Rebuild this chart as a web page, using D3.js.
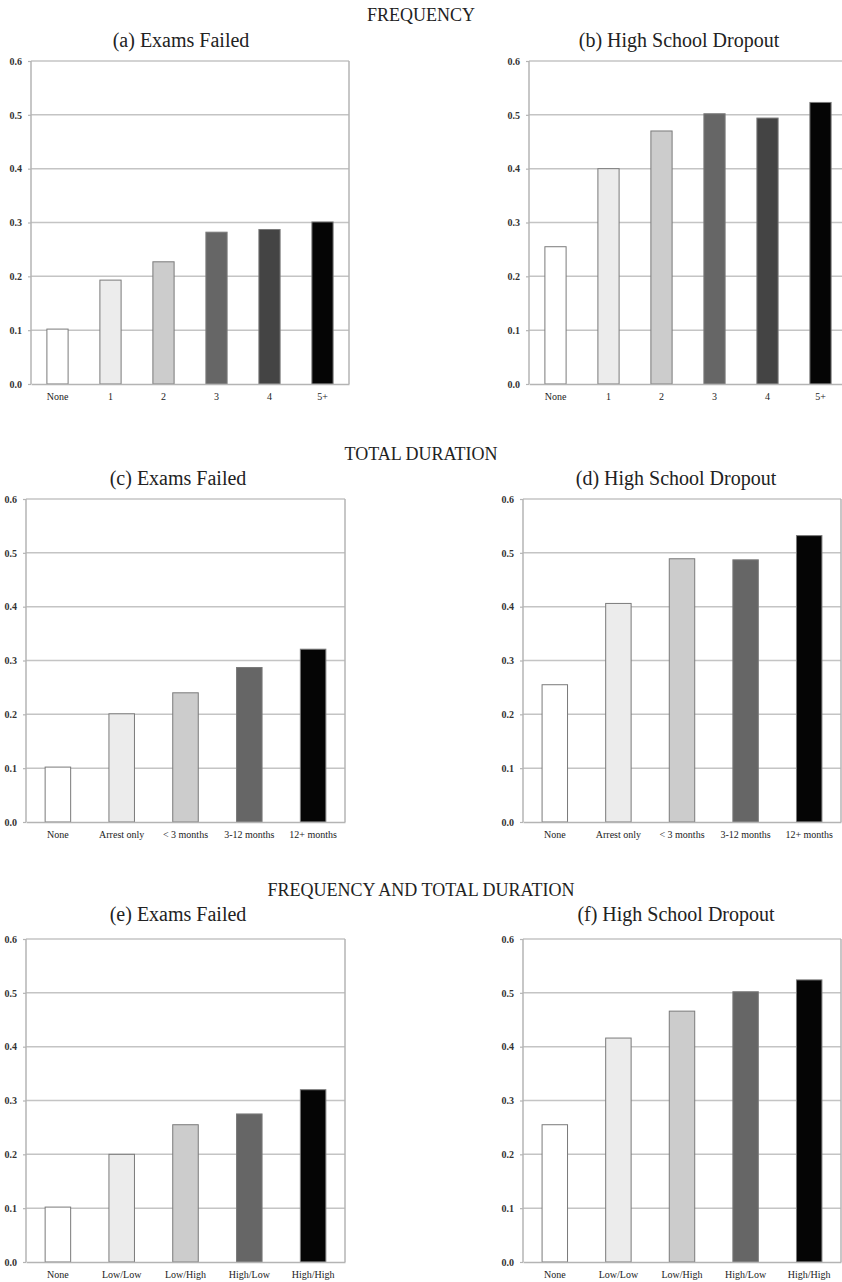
<!DOCTYPE html>
<html><head><meta charset="utf-8">
<script src="https://cdn.jsdelivr.net/npm/d3@7"></script>
<style>body{margin:0;background:#fff}svg{display:block}</style>
</head><body>
<svg id="c" width="842" height="1282"></svg>
<script>
// ---- data ----
const freqCats = ["None", "1", "2", "3", "4", "5+"];
const durCats = ["None", "Arrest only", "< 3 months", "3-12 months", "12+ months"];
const bothCats = ["None", "Low/Low", "Low/High", "High/Low", "High/High"];
const yTicks = [0.0, 0.1, 0.2, 0.3, 0.4, 0.5, 0.6];

const freqExams = [0.102, 0.193, 0.227, 0.282, 0.287, 0.301];
const freqDropout = [0.255, 0.400, 0.470, 0.502, 0.494, 0.523];
const durExams = [0.102, 0.201, 0.240, 0.287, 0.321];
const durDropout = [0.255, 0.406, 0.489, 0.487, 0.532];
const bothExams = [0.102, 0.200, 0.255, 0.275, 0.320];
const bothDropout = [0.255, 0.416, 0.466, 0.502, 0.524];

const sectionTitles = ["FREQUENCY", "TOTAL DURATION", "FREQUENCY AND TOTAL DURATION"];
const panelTitles = ["(a) Exams Failed", "(b) High School Dropout", "(c) Exams Failed",
  "(d) High School Dropout", "(e) Exams Failed", "(f) High School Dropout"];

const fill6 = ["#ffffff", "#ececec", "#cccccc", "#666666", "#444444", "#050505"];
const fill5 = ["#ffffff", "#ececec", "#cccccc", "#666666", "#050505"];

// ---- layout ----
const panels = [
  {cats: freqCats, vals: freqExams, fills: fill6, x0: 31, x1: 349, top: 61, bottom: 384, tx: 181, ty: 47},
  {cats: freqCats, vals: freqDropout, fills: fill6, x0: 529, x1: 847, top: 61, bottom: 384, tx: 679, ty: 47},
  {cats: durCats, vals: durExams, fills: fill5, x0: 26, x1: 345, top: 499, bottom: 822, tx: 178, ty: 485},
  {cats: durCats, vals: durDropout, fills: fill5, x0: 523, x1: 841, top: 499, bottom: 822, tx: 676, ty: 485},
  {cats: bothCats, vals: bothExams, fills: fill5, x0: 26, x1: 345, top: 939, bottom: 1262, tx: 178, ty: 921},
  {cats: bothCats, vals: bothDropout, fills: fill5, x0: 523, x1: 841, top: 939, bottom: 1262, tx: 676, ty: 921}
];
const sectionY = [21, 460, 896];

const svg = d3.select("#c");
const serif = "'Liberation Serif','Times New Roman',serif";

sectionTitles.forEach((t, i) => {
  svg.append("text").attr("x", 421).attr("y", sectionY[i]).attr("text-anchor", "middle")
    .attr("font-family", serif).attr("font-size", 18).attr("fill", "#222").text(t);
});

panels.forEach((p, i) => {
  const g = svg.append("g");
  const x = d3.scaleBand().domain(p.cats).range([p.x0, p.x1]).paddingInner(0.6).paddingOuter(0.3);
  const y = d3.scaleLinear().domain([0, 0.6]).range([p.bottom, p.top]);

  g.append("text").attr("x", p.tx).attr("y", p.ty).attr("text-anchor", "middle")
    .attr("font-family", serif).attr("font-size", 20).attr("fill", "#222").text(panelTitles[i]);

  // gridlines
  g.append("g").selectAll("line").data(yTicks.slice(1)).join("line")
    .attr("x1", p.x0).attr("x2", p.x1).attr("y1", d => y(d)).attr("y2", d => y(d))
    .attr("stroke", "#c4c4c4").attr("stroke-width", 1.5);

  // frame left/right
  g.append("line").attr("x1", p.x0).attr("x2", p.x0).attr("y1", p.top).attr("y2", p.bottom)
    .attr("stroke", "#b4b4b4").attr("stroke-width", 1.5);
  g.append("line").attr("x1", p.x1).attr("x2", p.x1).attr("y1", p.top).attr("y2", p.bottom)
    .attr("stroke", "#b4b4b4").attr("stroke-width", 1.5);

  // y axis
  const ya = d3.axisLeft(y).tickValues(yTicks).tickFormat(d3.format(".1f")).tickSize(3).tickPadding(6);
  const yg = g.append("g").attr("transform", `translate(${p.x0},0)`).call(ya);
  yg.select(".domain").remove();
  yg.selectAll(".tick line").attr("stroke", "#b4b4b4").attr("stroke-width", 1.2);
  yg.selectAll(".tick text").attr("font-family", serif).attr("font-size", 10).attr("font-weight", "bold").attr("fill", "#333");

  // bars
  g.append("g").selectAll("rect").data(p.vals).join("rect")
    .attr("x", (d, j) => x(p.cats[j]))
    .attr("width", x.bandwidth())
    .attr("y", d => y(d))
    .attr("height", d => y(0) - y(d))
    .attr("fill", (d, j) => p.fills[j])
    .attr("stroke", "#7a7a7a").attr("stroke-width", 1);

  // x axis
  const xa = d3.axisBottom(x).tickSize(0).tickPadding(9);
  const xg = g.append("g").attr("transform", `translate(0,${p.bottom})`).call(xa);
  xg.select(".domain").attr("stroke", "#b4b4b4").attr("stroke-width", 1.5);
  xg.selectAll(".tick text").attr("font-family", serif).attr("font-size", 10).attr("fill", "#222");
});
</script>
</body></html>
